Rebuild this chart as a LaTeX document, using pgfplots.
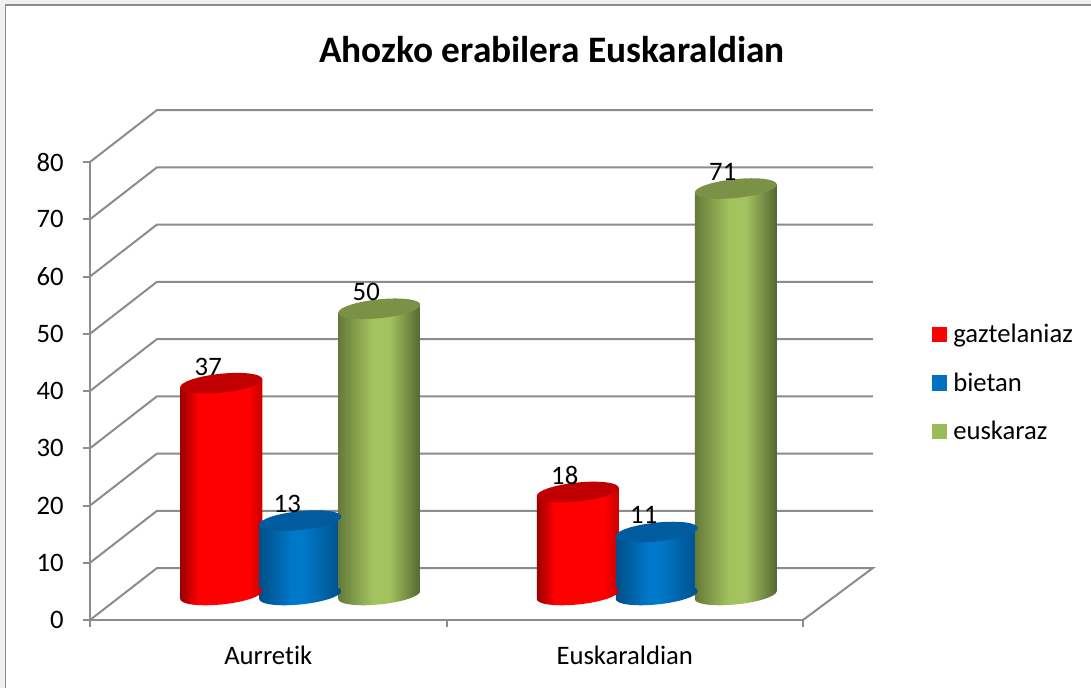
\documentclass[border=0pt]{standalone}
\usepackage{fontspec}
\setmainfont{Carlito}[Ligatures=CommonOff]
\usepackage{pgfplots}
\pgfplotsset{compat=1.18}

\definecolor{wallgray}{HTML}{8C8C8C}
\definecolor{redtop}{HTML}{C00000}
\definecolor{bluetop}{HTML}{005C9E}
\definecolor{greentop}{HTML}{7A9146}
\definecolor{redkey}{HTML}{FF0000}
\definecolor{bluekey}{HTML}{0070C0}
\definecolor{greenkey}{HTML}{9BBB59}
\definecolor{greenmid}{HTML}{A3C35F}
\definecolor{bluemid}{HTML}{0078CA}

% cylinder sides, only 25bp-75bp of a shading lands on the path
\pgfdeclarehorizontalshading{redcyl}{100bp}{color(0bp)=(red!60!black); color(25bp)=(red!60!black); color(36bp)=(red); color(66bp)=(red); color(75bp)=(red!80!black); color(100bp)=(red!80!black)}
\pgfdeclarehorizontalshading{bluecyl}{100bp}{color(0bp)=(bluekey!70!black); color(25bp)=(bluekey!70!black); color(45bp)=(bluemid); color(52bp)=(bluemid); color(75bp)=(bluekey!72!black); color(100bp)=(bluekey!72!black)}
\pgfdeclarehorizontalshading{greencyl}{100bp}{color(0bp)=(greenkey!65!black); color(25bp)=(greenkey!65!black); color(46bp)=(greenmid); color(56bp)=(greenmid); color(75bp)=(greenkey!55!black); color(100bp)=(greenkey!55!black)}

% cylinder ends, the plot's yslant tilts them
\newcommand{\cylellipse}{\pgfpathellipse{\pgfpointorigin}{\pgfpoint{30.75pt}{0pt}}{\pgfpoint{0pt}{7.1pt}}}
\pgfdeclareplotmark{cyltop}{\cylellipse\pgfusepathqfill}
\pgfdeclareplotmark{redbase}{\cylellipse\pgfshadepath{redcyl}{0}\pgfusepath{discard}}
\pgfdeclareplotmark{bluebase}{\cylellipse\pgfshadepath{bluecyl}{0}\pgfusepath{discard}}
\pgfdeclareplotmark{greenbase}{\cylellipse\pgfshadepath{greencyl}{0}\pgfusepath{discard}}

\pgfplotsset{
    wall/.style={forget plot, color=wallgray, line width=1.5pt, line join=miter, mark=none},
    % #1 sideways place in the group, #2 takes the slant out again at that category
    cyl/.style 2 args={ybar, bar width=61.5pt, bar shift=0pt, xshift=24pt+#1, yshift=18.75pt-#2, yslant=0.0976, forget plot},
    body/.style={draw=none, shade, shading=#1},
    label/.style={nodes near coords, nodes near coords style={anchor=center, xshift=-9.75pt, yshift=12.5pt, color=black, font=\fontsize{20}{22}\selectfont}},
    keysquare/.style={legend image code/.code={\fill[#1] (0pt,-5.3pt) rectangle (10.6pt,5.3pt); \path (13.5pt,0pt);}},
}

\begin{document}
\begin{tikzpicture}
\path[use as bounding box] (0,0) rectangle (818.25pt,516pt);
\fill[white] (0,0) rectangle (818.25pt,516pt);
\fill[black!6] (0,0) rectangle (3.6pt,516pt);
\fill[black!6] (0,512.6pt) rectangle (818.25pt,516pt);
\draw[wallgray, line width=1.1pt] (4.2pt,0) -- (4.2pt,512.2pt) -- (818.25pt,512.2pt);

\begin{axis}[
    at={(67.5pt,51pt)}, anchor=south west,
    scale only axis, width=534.75pt, height=343.5pt,
    xmin=0, xmax=2, ymin=0, ymax=80,
    clip=false,
    axis x line*=bottom, axis y line*=left,
    axis line style={draw=wallgray, line width=1.5pt, -},
    tick style={draw=wallgray, line width=1.5pt},
    tick align=outside, major tick length=5.25pt,
    xtick={0,1,2}, xticklabels={},
    extra x ticks={0.5,1.5},
    extra x tick labels={Aurretik,Euskaraldian},
    extra x tick style={major tick length=0pt},
    ytick={0,10,...,80},
    /pgf/number format/assume math mode=true,
    tick label style={font=\fontsize{20}{22}\selectfont},
    xticklabel style={yshift=-16pt},
    yticklabel style={xshift=-11pt},
    title={\textbf{Ahozko erabilera Euskaraldian}},
    title style={at={(0.648,1.228)}, anchor=center, font=\fontsize{28}{32}\selectfont},
    legend style={at={(1.175,0.6585)}, anchor=north west, draw=none, fill=none,
        row sep=17pt, font=\fontsize{20}{22}\selectfont},
    legend cell align=left,
]
\addlegendimage{keysquare=redkey}
\addlegendimage{keysquare=bluekey}
\addlegendimage{keysquare=greenkey}
\legend{gaztelaniaz,bietan,euskaraz}

% side wall and back wall, one line per value step
\addplot[wall] coordinates {(0,10) (0.188,19.08) (2.196,19.08)};
\addplot[wall] coordinates {(0,20) (0.188,29.08) (2.196,29.08)};
\addplot[wall] coordinates {(0,30) (0.188,39.08) (2.196,39.08)};
\addplot[wall] coordinates {(0,40) (0.188,49.08) (2.196,49.08)};
\addplot[wall] coordinates {(0,50) (0.188,59.08) (2.196,59.08)};
\addplot[wall] coordinates {(0,60) (0.188,69.08) (2.196,69.08)};
\addplot[wall] coordinates {(0,70) (0.188,79.08) (2.196,79.08)};
\addplot[wall] coordinates {(0,80) (0.188,89.08) (2.196,89.08)};
% floor
\addplot[wall] coordinates {(0,0) (0.188,9.08) (2.196,9.08) (2,0)};

% gaztelaniaz
\addplot[cyl={-59.25pt}{13.05pt}, draw=none, fill=none, mark=redbase] coordinates {(0.5,0)};
\addplot[cyl={-59.25pt}{13.05pt}, body=redcyl, mark=cyltop, mark options={fill=redtop}, label] coordinates {(0.5,37)};
\addplot[cyl={-59.25pt}{39.14pt}, draw=none, fill=none, mark=redbase] coordinates {(1.5,0)};
\addplot[cyl={-59.25pt}{39.14pt}, body=redcyl, mark=cyltop, mark options={fill=redtop}, label] coordinates {(1.5,18)};
% bietan
\addplot[cyl={0pt}{13.05pt}, draw=none, fill=none, mark=bluebase] coordinates {(0.5,0)};
\addplot[cyl={0pt}{13.05pt}, body=bluecyl, mark=cyltop, mark options={fill=bluetop}, label] coordinates {(0.5,13)};
\addplot[cyl={0pt}{39.14pt}, draw=none, fill=none, mark=bluebase] coordinates {(1.5,0)};
\addplot[cyl={0pt}{39.14pt}, body=bluecyl, mark=cyltop, mark options={fill=bluetop}, label] coordinates {(1.5,11)};
% euskaraz
\addplot[cyl={59.25pt}{13.05pt}, draw=none, fill=none, mark=greenbase] coordinates {(0.5,0)};
\addplot[cyl={59.25pt}{13.05pt}, body=greencyl, mark=cyltop, mark options={fill=greentop}, label] coordinates {(0.5,50)};
\addplot[cyl={59.25pt}{39.14pt}, draw=none, fill=none, mark=greenbase] coordinates {(1.5,0)};
\addplot[cyl={59.25pt}{39.14pt}, body=greencyl, mark=cyltop, mark options={fill=greentop}, label] coordinates {(1.5,71)};
\end{axis}
\end{tikzpicture}
\end{document}
